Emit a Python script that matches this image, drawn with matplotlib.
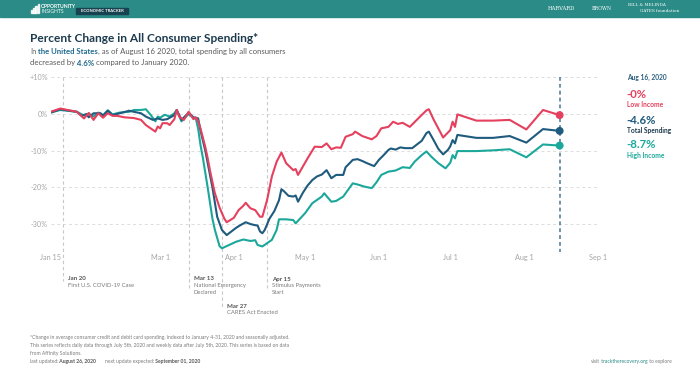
import matplotlib.pyplot as plt
import pandas as pd
from matplotlib.patches import Rectangle

plt.rcParams['font.family'] = ['Lato', 'DejaVu Sans']

RED = '#e5405e'
BLUE = '#1f5b7e'
TEAL = '#1ba89b'

# --- data, dates are 2020 ---
total_dates = ['01-15', '01-19', '01-26', '01-28', '01-30', '01-31', '02-02', '02-05', '02-06', '02-08',
               '02-10', '02-13', '02-17', '02-19', '02-22', '02-24', '02-27', '02-29', '03-02', '03-04',
               '03-07', '03-08', '03-10', '03-13', '03-15', '03-17', '03-18', '03-20', '03-23', '03-25',
               '03-27', '03-29', '03-31', '04-02', '04-04', '04-06', '04-08', '04-10', '04-11', '04-12',
               '04-13', '04-14', '04-16', '04-18', '04-20', '04-21', '04-22', '04-24', '04-26', '04-27',
               '04-28', '04-30', '05-02', '05-04', '05-06', '05-08', '05-10', '05-12', '05-14', '05-17',
               '05-18', '05-20', '05-21', '05-23', '05-25', '05-27', '05-30', '06-01', '06-03', '06-05',
               '06-06', '06-08', '06-10', '06-12', '06-15', '06-17', '06-19', '06-21', '06-22', '06-24',
               '06-26', '06-28', '06-30', '07-01', '07-02', '07-03', '07-04', '07-12', '07-19', '07-26',
               '08-02', '08-09', '08-16']
total_vals = [0.4, 1.3, 0.6, -0.5, 0.0, -0.9, 0.2, 0.2, -0.5, 0.9,
              -0.3, 0.2, 0.9, 0.6, 0.2, -0.7, -1.6, -1.2, -1.6, -1.4,
              -0.3, 1.1, -1.6, 0.4, -0.9, -1.2, -4.5, -10.0, -20.0, -28.0,
              -31.6, -33.0, -32.0, -31.0, -30.2, -29.5, -30.0, -30.3, -30.4, -32.0,
              -32.5, -31.6, -28.5, -26.5, -23.5, -20.5, -21.0, -22.3, -22.5, -22.2,
              -23.9, -21.5, -19.5, -18.0, -17.0, -16.5, -15.3, -17.5, -16.6, -16.6,
              -14.5, -13.2, -12.5, -12.3, -12.8, -13.4, -14.2, -12.5, -11.2, -9.8,
              -9.4, -9.7, -9.1, -9.3, -9.3, -8.3, -7.3, -5.2, -4.8, -7.1,
              -9.5, -11.0, -9.8, -8.8, -7.1, -8.0, -5.7, -6.5, -6.5, -6.0,
              -7.8, -4.1, -4.6]

low_dates = ['01-15', '01-19', '01-26', '01-29', '01-31', '02-02', '02-04', '02-06', '02-08', '02-10',
             '02-12', '02-15', '02-19', '02-22', '02-24', '02-26', '02-28', '02-29', '03-01', '03-02',
             '03-04', '03-05', '03-07', '03-08', '03-09', '03-11', '03-13', '03-15', '03-16', '03-17',
             '03-18', '03-20', '03-21', '03-22', '03-24', '03-26', '03-28', '03-29', '04-01', '04-03',
             '04-05', '04-06', '04-08', '04-10', '04-12', '04-13', '04-15', '04-17', '04-19', '04-21',
             '04-23', '04-26', '04-27', '04-28', '05-02', '05-05', '05-08', '05-10', '05-12', '05-14',
             '05-16', '05-18', '05-21', '05-22', '05-25', '05-29', '05-31', '06-02', '06-05', '06-07',
             '06-09', '06-11', '06-14', '06-18', '06-21', '06-22', '06-24', '06-28', '07-01', '07-02',
             '07-03', '07-04', '07-12', '07-19', '07-26', '08-02', '08-09', '08-16']
low_vals = [0.6, 1.5, 0.6, -1.2, 0.3, -1.6, 0.2, -1.0, 0.2, -0.5,
            -0.5, -0.9, -1.1, -1.6, -3.0, -3.9, -4.8, -3.4, -3.9, -2.5,
            -2.5, -3.0, -1.4, 1.1, -0.7, -1.6, 0.6, -1.4, -0.9, -2.0,
            -4.0, -9.0, -12.0, -15.5, -21.5, -25.5, -28.5, -29.5, -28.3, -26.2,
            -25.0, -24.2, -25.7, -26.2, -28.0, -28.0, -23.4, -17.0, -13.0, -10.5,
            -13.4, -15.3, -15.0, -16.6, -12.1, -8.9, -9.0, -8.0, -9.6, -9.1,
            -9.2, -6.2, -5.5, -4.8, -6.0, -6.9, -6.0, -3.9, -3.5, -2.1,
            -2.7, -2.4, -3.5, -0.9, 1.0, 1.3, -1.5, -6.4, -4.4, -2.1,
            -3.5, -0.1, -1.8, -1.8, -1.6, -4.2, 1.1, -0.3]

high_dates = ['01-15', '01-19', '01-26', '01-29', '01-31', '02-02', '02-04', '02-06', '02-08', '02-10',
              '02-13', '02-17', '02-19', '02-22', '02-24', '02-26', '02-28', '02-29', '03-01', '03-03',
              '03-05', '03-07', '03-08', '03-10', '03-13', '03-15', '03-16', '03-17', '03-18', '03-19',
              '03-21', '03-23', '03-24', '03-26', '03-27', '03-30', '04-02', '04-05', '04-08', '04-10',
              '04-11', '04-13', '04-15', '04-17', '04-19', '04-20', '04-23', '04-26', '04-27', '05-01',
              '05-04', '05-08', '05-09', '05-12', '05-14', '05-17', '05-21', '05-23', '05-26', '05-29',
              '05-31', '06-02', '06-05', '06-08', '06-11', '06-14', '06-16', '06-19', '06-21', '06-23',
              '06-26', '06-29', '07-01', '07-02', '07-03', '07-04', '07-12', '07-19', '07-26', '08-02',
              '08-09', '08-16']
high_vals = [0.4, 1.1, 0.6, -0.4, 0.1, -0.7, 0.4, -0.3, 1.0, -0.1,
             0.4, 0.6, 1.1, 1.1, 1.3, -0.2, -2.0, -0.7, -1.0, -0.2,
             -0.7, 0.2, 1.1, -2.0, 0.0, -1.0, -1.2, -4.0, -8.5, -12.0,
             -20.0, -28.5, -31.5, -36.0, -36.6, -35.7, -34.8, -34.2, -34.6, -34.4,
             -35.7, -36.1, -35.2, -34.3, -31.6, -28.7, -28.7, -28.9, -29.8, -27.0,
             -24.3, -22.5, -21.6, -23.9, -23.7, -22.5, -18.9, -19.2, -19.8, -20.2,
             -18.6, -16.6, -15.7, -15.4, -14.5, -14.7, -13.0, -11.2, -10.2, -11.6,
             -13.4, -14.8, -13.3, -11.2, -12.1, -10.1, -10.1, -9.9, -9.6, -11.8,
             -8.3, -8.6]

tick_dates = ['01-15', '03-01', '04-01', '05-01', '06-01', '07-01', '08-01', '09-01']
tick_labels = ['Jan 15', 'Mar 1', 'Apr 1', 'May 1', 'Jun 1', 'Jul 1', 'Aug 1', 'Sep 1']
y_ticks = [10, 0, -10, -20, -30]

event_dates = ['01-20', '03-13', '03-27', '04-15']
event_titles = ['Jan 20', 'Mar 13', 'Mar 27', 'Apr 15']
event_texts = ['First U.S. COVID-19 Case', 'National Emergency\nDeclared', 'CARES Act Enacted',
               'Stimulus Payments\nStart']


def d(s):
    return pd.to_datetime('2020-' + s)


def dl(lst):
    return [d(s) for s in lst]


W, H = 700, 377
fig = plt.figure(figsize=(W / 100, H / 100), dpi=100)


def fx(x):
    return x / W


def fy(y):
    return 1 - y / H


# header bar
fig.patches.append(Rectangle((0, fy(17)), 1, 17 / H, transform=fig.transFigure, color='#2a8b87', zorder=0))
fig.patches.append(Rectangle((fx(76), fy(14)), 52 / W, 6 / H, transform=fig.transFigure, color='#17424f', zorder=1))
for i, hgt in enumerate([3, 5, 7, 9]):
    fig.patches.append(Rectangle((fx(31 + i * 2.2), fy(13)), 1.6 / W, hgt / H, transform=fig.transFigure,
                                 color='white', alpha=0.85, zorder=1))
fig.text(fx(41), fy(6.5), 'OPPORTUNITY', color='white', fontsize=3.6, fontweight='bold', va='center')
fig.text(fx(41), fy(11.5), 'INSIGHTS', color='white', fontsize=3.6, va='center')
fig.text(fx(102), fy(11), 'ECONOMIC TRACKER', color='white', fontsize=3.0, fontweight='bold',
         va='center', ha='center', zorder=2)
fig.text(fx(548), fy(8), 'HARVARD', color='white', fontsize=3.8, family='DejaVu Serif', va='center')
fig.text(fx(592), fy(8), 'BROWN', color='white', fontsize=3.4, family='DejaVu Serif', va='center')
fig.text(fx(628), fy(5.5), 'BILL & MELINDA', color='white', fontsize=3.0, family='DejaVu Serif', va='center')
fig.text(fx(640), fy(11), 'GATES foundation', color='white', fontsize=3.0, family='DejaVu Serif', va='center')

# title
fig.text(fx(30), fy(38), 'Percent Change in All Consumer Spending*', color='#1c3a4e', fontsize=8.6,
         fontweight='bold', va='center')

# main axes
ax_top, ax_bot = 75.5, 251.6
ax = fig.add_axes([fx(50.7), fy(ax_bot), (597.7 - 50.7) / W, (ax_bot - ax_top) / H])
ax.set_xlim(d('01-15'), d('09-01'))
ax.set_ylim(-37.5, 10.5)
for s in ax.spines.values():
    s.set_visible(False)
ax.set_yticks(y_ticks)
ax.set_yticklabels(['+10%' if v > 0 else f'{v}%' for v in y_ticks])
ax.set_xticks(dl(tick_dates))
ax.set_xticklabels(tick_labels)
ax.tick_params(length=0, labelsize=5.2, colors='#a5a5a5')
ax.tick_params(axis='y', pad=2)
ax.tick_params(axis='x', pad=2)
ax.yaxis.grid(True, color='#dcdcdc', linestyle=(0, (3, 3)), linewidth=0.7)
ax.set_axisbelow(True)


def rich_line(x, y, parts, size):
    # chain coloured pieces, each anchored to the right edge of the previous one
    txt, col, wt = parts[0]
    t = fig.text(fx(x), fy(y), txt, color=col, fontsize=size, fontweight=wt, va='center')
    for txt, col, wt in parts[1:]:
        t = ax.annotate(txt, xy=(1, 0.5), xycoords=t, va='center', ha='left', color=col,
                        fontsize=size, fontweight=wt, annotation_clip=False)


SUB = '#5a5a5a'
rich_line(30, 51.5, [('In', SUB, 'normal'), (' the United States', '#1f6a8e', 'bold'),
                     (', as of August 16 2020, total spending by all consumers', SUB, 'normal')], 5.6)
rich_line(30, 63, [('decreased by', SUB, 'normal'), (' 4.6%', '#1f6a8e', 'bold'),
                   (' compared to January 2020.', SUB, 'normal')], 5.6)

# event lines and labels
event_line_end = [-45.4, -47.4, -52.9, -47.4]
event_label_y = [279, 279, 306, 279]
for ed, title, txt, yend, ly in zip(event_dates, event_titles, event_texts, event_line_end, event_label_y):
    ax.plot([d(ed), d(ed)], [10, yend], color='#c8c8c8', lw=0.8, ls=(0, (3, 2.5)), clip_on=False, zorder=1)
    ax.annotate(title, xy=(d(ed), H - ly), xycoords=('data', 'figure pixels'), xytext=(5, 0),
                textcoords='offset pixels', fontsize=4.4, fontweight='bold', color='#555555', va='center',
                annotation_clip=False)
    ax.annotate(txt, xy=(d(ed), H - ly - 4), xycoords=('data', 'figure pixels'), xytext=(5, 0),
                textcoords='offset pixels', fontsize=4.2, color='#7a7a7a', va='top', linespacing=1.6,
                annotation_clip=False)

# series
ax.plot(dl(high_dates), high_vals, color=TEAL, lw=1.5, zorder=3, solid_capstyle='round')
ax.plot(dl(total_dates), total_vals, color=BLUE, lw=1.5, zorder=4, solid_capstyle='round')
ax.plot(dl(low_dates), low_vals, color=RED, lw=1.5, zorder=5, solid_capstyle='round')

# current date marker
last = d(total_dates[-1])
ax.plot([last, last], [10, -37.5], color='#4a7793', lw=1.1, ls=(0, (2.5, 2)), zorder=2, clip_on=False)
ax.scatter([last] * 3, [low_vals[-1], total_vals[-1], high_vals[-1]], s=22, color=[RED, BLUE, TEAL],
           zorder=6, clip_on=False)

# side legend
fig.text(fx(627), fy(77), 'Aug 16, 2020', color='#2b5f7f', fontsize=4.8, fontweight='bold', va='center')
side = [('-0%', 'Low Income', RED, RED, 94.5, 104.5),
        ('-4.6%', 'Total Spending', BLUE, '#1c3a4e', 120, 130),
        ('-8.7%', 'High Income', TEAL, TEAL, 145, 155.5)]
for val, name, c1, c2, y1, y2 in side:
    fig.text(fx(626), fy(y1), val, color=c1, fontsize=8.2, fontweight='bold', va='center')
    fig.text(fx(627), fy(y2), name, color=c2, fontsize=4.8, fontweight='bold', va='center')

# footnote
FOOT = '#7a7a7a'
fs = 3.65
fig.text(fx(30), fy(337), '*Change in average consumer credit and debit card spending, indexed to January 4-31, 2020 '
         'and seasonally adjusted.', color=FOOT, fontsize=fs, va='center')
fig.text(fx(30), fy(345), 'This series reflects daily data through July 5th, 2020 and weekly data after July 5th, 2020. '
         'This series is based on data', color=FOOT, fontsize=fs, va='center')
fig.text(fx(30), fy(353), 'from Affinity Solutions.', color=FOOT, fontsize=fs, va='center')
rich_line(30, 361.5, [('last updated:', FOOT, 'normal'), (' August 26, 2020', '#555555', 'bold')], fs)
rich_line(105, 361.5, [('next update expected:', FOOT, 'normal'), (' September 01, 2020', '#555555', 'bold')], fs)
rich_line(591, 361.5, [('visit', FOOT, 'normal'), (' tracktherecovery.org', '#2a8b87', 'normal'),
                       (' to explore', FOOT, 'normal')], fs)

fig.savefig('out.png', dpi=100)
